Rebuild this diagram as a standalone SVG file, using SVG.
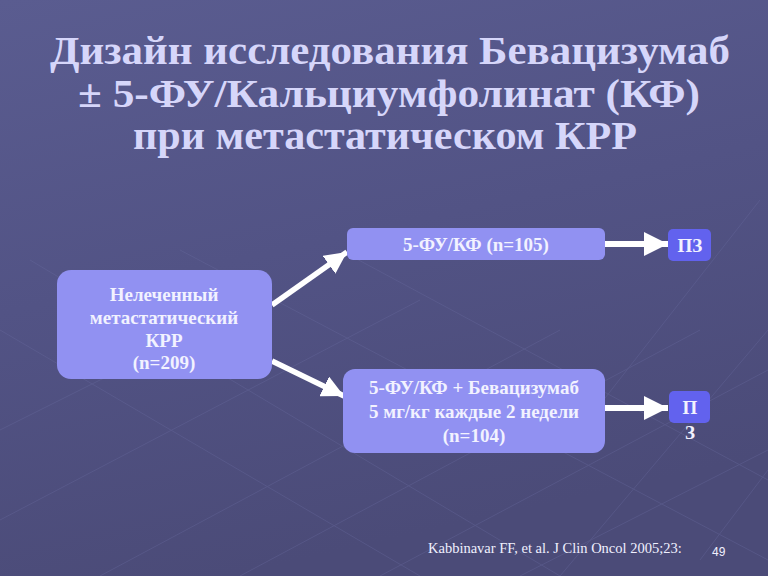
<svg xmlns="http://www.w3.org/2000/svg" width="768" height="576" viewBox="0 0 768 576">
<defs>
<linearGradient id="bg" x1="0" y1="0" x2="0.3" y2="1">
<stop offset="0" stop-color="#5a5c90"/>
<stop offset="0.5" stop-color="#525385"/>
<stop offset="1" stop-color="#4b4b78"/>
</linearGradient>
<marker id="ah" viewBox="0 0 10 10" refX="10" refY="5" markerWidth="4" markerHeight="4" markerUnits="strokeWidth" orient="auto">
<path d="M0,0 L10,5 L0,10 z" fill="#ffffff"/>
</marker>
</defs>
<style>
.title{font-family:"Liberation Serif","Times New Roman",serif;font-weight:bold;font-size:39px;fill:#d6d6fa;text-anchor:middle}
.box{fill:#9191f2}
.pz{fill:#6262ee}
.lbl{font-family:"Liberation Serif","Times New Roman",serif;font-weight:bold;font-size:19px;fill:#f2f2ff;text-anchor:middle}
.grid{stroke:#6a6ca0;stroke-width:1;opacity:0.35;fill:none}
.conn{stroke:#ffffff;fill:none}
</style>
<rect width="768" height="576" fill="url(#bg)"/>
<g class="grid">
<path d="M0,430 L260,300 M0,520 L420,300 M100,576 L560,330 M240,576 L700,330 M380,576 L768,370 M520,576 L768,450"/>
<path d="M0,330 L420,576 M30,260 L560,576 M180,250 L768,560 M340,250 L768,480"/>
<path d="M560,576 L768,330 M700,560 L768,470 M580,430 L760,200"/>
</g>
<g id="title">
<text class="title" x="390" y="64" textLength="680" lengthAdjust="spacingAndGlyphs">Дизайн исследования Бевацизумаб</text>
<text class="title" x="389" y="107" textLength="622" lengthAdjust="spacingAndGlyphs">± 5-ФУ/Кальциумфолинат (КФ)</text>
<text class="title" x="385" y="149" textLength="504" lengthAdjust="spacingAndGlyphs">при метастатическом КРР</text>
</g>
<g id="connectors">
<line class="conn" x1="272" y1="305" x2="347" y2="252" stroke-width="5.5" marker-end="url(#ah)"/>
<line class="conn" x1="272" y1="361" x2="344" y2="396" stroke-width="5.5" marker-end="url(#ah)"/>
<line class="conn" x1="605" y1="244" x2="668" y2="244" stroke-width="6" marker-end="url(#ah)"/>
<line class="conn" x1="605" y1="408" x2="668" y2="408" stroke-width="6" marker-end="url(#ah)"/>
</g>
<g id="node-untreated">
<rect class="box" x="57" y="270" width="215" height="109" rx="14"/>
<text class="lbl" x="164" y="301">Нелеченный</text>
<text class="lbl" x="164" y="324">метастатический</text>
<text class="lbl" x="164" y="347">КРР</text>
<text class="lbl" x="164" y="369">(n=209)</text>
</g>
<g id="node-fu">
<rect class="box" x="347" y="228" width="258" height="32" rx="6"/>
<text class="lbl" x="476" y="251">5-ФУ/КФ (n=105)</text>
</g>
<g id="node-fu-bev">
<rect class="box" x="343" y="369" width="262" height="84" rx="12"/>
<text class="lbl" x="474" y="394">5-ФУ/КФ + Бевацизумаб</text>
<text class="lbl" x="474" y="418">5 мг/кг каждые 2 недели</text>
<text class="lbl" x="474" y="442">(n=104)</text>
</g>
<g id="node-pz1">
<rect class="pz" x="668" y="229" width="43" height="32" rx="5"/>
<text class="lbl" x="690" y="252">ПЗ</text>
</g>
<g id="node-pz2">
<rect class="pz" x="669" y="391" width="41" height="32" rx="5"/>
<text class="lbl" x="690" y="414">П</text>
<text class="lbl" x="690" y="439">З</text>
</g>
<g id="footer">
<text x="428" y="553" font-family="Liberation Serif,'Times New Roman',serif" font-size="14.5" fill="#f0f0ff">Kabbinavar FF, et al. J Clin Oncol 2005;23:</text>
<text x="712" y="556" font-family="Liberation Sans,Arial,sans-serif" font-size="12" fill="#f0f0ff">49</text>
</g>
</svg>
